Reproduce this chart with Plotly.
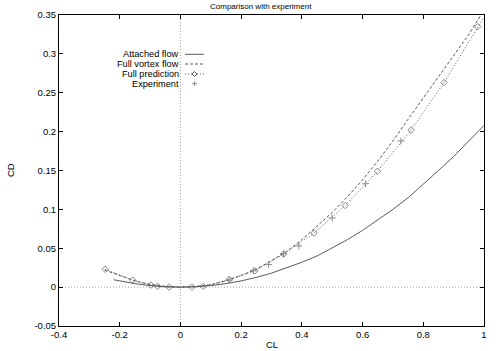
import plotly.graph_objects as go

# ---- data ----
attached_cl = [-0.22, -0.15, -0.1, -0.05, 0.0, 0.05, 0.1, 0.15, 0.2, 0.25, 0.3, 0.35, 0.4,
               0.45, 0.5, 0.55, 0.6, 0.65, 0.7, 0.75, 0.8, 0.85, 0.9, 0.95, 1.0]
attached_cd = [0.0095, 0.0045, 0.002, 0.0005, 0.0, 0.0005, 0.002, 0.0045, 0.008, 0.0125, 0.018,
               0.0245, 0.032, 0.040, 0.050, 0.061, 0.073, 0.086, 0.100, 0.115, 0.132, 0.150,
               0.168, 0.188, 0.208]

vortex_cl = [-0.25, -0.2, -0.15, -0.1, -0.05, 0.0, 0.05, 0.1, 0.15, 0.2, 0.25, 0.3, 0.35, 0.4,
             0.45, 0.5, 0.55, 0.6, 0.65, 0.7, 0.75, 0.8, 0.85, 0.9, 0.95, 0.99]
vortex_cd = [0.022, 0.015, 0.008, 0.0035, 0.001, 0.0, 0.001, 0.003, 0.008, 0.015, 0.023, 0.034,
             0.046, 0.061, 0.078, 0.096, 0.116, 0.138, 0.162, 0.188, 0.216, 0.243, 0.270,
             0.298, 0.325, 0.350]

pred_cl = [-0.248, -0.157, -0.097, -0.075, -0.037, 0.038, 0.075, 0.161, 0.245, 0.34, 0.44,
           0.543, 0.649, 0.76, 0.868, 0.979, 1.0]
pred_cd = [0.023, 0.009, 0.0026, 0.001, 0.0, 0.0, 0.001, 0.0099, 0.021, 0.0425, 0.0695,
           0.105, 0.149, 0.202, 0.263, 0.335, 0.347]
pred_marker = [1] * 16 + [0]   # last point is a line end without a marker

exp_cl = [0.16, 0.24, 0.29, 0.34, 0.39, 0.50, 0.61, 0.726]
exp_cd = [0.009, 0.021, 0.029, 0.043, 0.053, 0.089, 0.133, 0.188]

x_ticks = [-0.4, -0.2, 0, 0.2, 0.4, 0.6, 0.8, 1]
x_ticktext = ["-0.4", "-0.2", "0", "0.2", "0.4", "0.6", "0.8", "1"]
y_ticks = [-0.05, 0, 0.05, 0.1, 0.15, 0.2, 0.25, 0.3, 0.35]
y_ticktext = ["-0.05", "0", "0.05", "0.1", "0.15", "0.2", "0.25", "0.3", "0.35"]

legend_names = ["Attached flow", "Full vortex flow", "Full prediction", "Experiment"]

# ---- style ----
FONT = "Liberation Sans, Arial, sans-serif"
GRAY = "#5a5a5a"
LIGHT = "#8a8a8a"
W, H = 501, 351
ML, MR, MT, MB = 59, 17, 15, 25
PW, PH = W - ML - MR, H - MT - MB


def px(xp):
    return (xp - ML) / PW


def py(yp):
    return (H - MB - yp) / PH


fig = go.Figure()
fig.add_trace(go.Scatter(x=attached_cl, y=attached_cd, mode="lines",
                         line=dict(color=GRAY, width=1), name=legend_names[0]))
fig.add_trace(go.Scatter(x=vortex_cl, y=vortex_cd, mode="lines",
                         line=dict(color=GRAY, width=1, dash="3px,2px"), name=legend_names[1]))
fig.add_trace(go.Scatter(x=pred_cl, y=pred_cd, mode="lines+markers",
                         line=dict(color=GRAY, width=1, dash="1px,2px"),
                         marker=dict(symbol="diamond-open", size=[5 * m for m in pred_marker],
                                     color=GRAY, line=dict(width=1, color=GRAY)),
                         name=legend_names[2]))
fig.add_trace(go.Scatter(x=exp_cl, y=exp_cd, mode="markers",
                         marker=dict(symbol="cross-thin-open", size=5, color=LIGHT,
                                     line=dict(width=1, color=LIGHT)),
                         name=legend_names[3]))

shapes = [
    dict(type="line", xref="x", yref="paper", x0=0, x1=0, y0=0, y1=1, layer="below",
         line=dict(color="#a0a0a0", width=1, dash="1px,2px")),
    dict(type="line", xref="paper", yref="y", x0=0, x1=1, y0=0, y1=0, layer="below",
         line=dict(color="#a0a0a0", width=1, dash="1px,2px")),
]

annotations = [
    dict(text="Comparison with experiment", xref="paper", yref="paper", x=px(261), y=py(6),
         xanchor="center", yanchor="middle", showarrow=False,
         font=dict(family=FONT, size=8, color="black")),
    dict(text="CL", xref="paper", yref="paper", x=px(271.5), y=py(344.5),
         xanchor="center", yanchor="middle", showarrow=False,
         font=dict(family=FONT, size=9.5, color="black")),
    dict(text="CD", xref="paper", yref="paper", x=px(10), y=py(170), textangle=-90,
         xanchor="center", yanchor="middle", showarrow=False,
         font=dict(family=FONT, size=9.5, color="black")),
]

# manual gnuplot-style key: right-aligned text, sample to the right
rows = [54.3, 64, 74, 83.7]
for i, name in enumerate(legend_names):
    annotations.append(dict(text=name, xref="paper", yref="paper", x=px(181), y=py(rows[i]),
                            xanchor="right", yanchor="middle", showarrow=False,
                            font=dict(family=FONT, size=9.2, color="black")))
x0s, x1s = px(185), px(204)
shapes.append(dict(type="line", xref="paper", yref="paper", x0=x0s, x1=x1s,
                   y0=py(rows[0]), y1=py(rows[0]), line=dict(color=GRAY, width=1)))
shapes.append(dict(type="line", xref="paper", yref="paper", x0=x0s, x1=x1s,
                   y0=py(rows[1]), y1=py(rows[1]), line=dict(color=GRAY, width=1, dash="3px,2px")))
shapes.append(dict(type="line", xref="paper", yref="paper", x0=x0s, x1=x1s,
                   y0=py(rows[2]), y1=py(rows[2]), line=dict(color=GRAY, width=1, dash="1px,2px")))
# diamond sample
cx, cy = 194.5, rows[2]
shapes.append(dict(type="path", xref="paper", yref="paper",
                   path=f"M {px(cx-2.5)},{py(cy)} L {px(cx)},{py(cy-2.5)} L {px(cx+2.5)},{py(cy)} L {px(cx)},{py(cy+2.5)} Z",
                   line=dict(color=GRAY, width=1), fillcolor="white"))
# plus sample
cx, cy = 194.5, rows[3]
shapes.append(dict(type="line", xref="paper", yref="paper", x0=px(cx-2.5), x1=px(cx+2.5),
                   y0=py(cy), y1=py(cy), line=dict(color=LIGHT, width=1)))
shapes.append(dict(type="line", xref="paper", yref="paper", x0=px(cx), x1=px(cx),
                   y0=py(cy-2.5), y1=py(cy+2.5), line=dict(color=LIGHT, width=1)))

axis_common = dict(showgrid=False, zeroline=False, showline=True, linecolor="black",
                   linewidth=1, mirror="ticks", ticks="inside", ticklen=4, tickcolor="black",
                   automargin=False,
                   tickfont=dict(family=FONT, size=9.5, color="black"))

fig.update_layout(
    width=W, height=H, autosize=False,
    margin=dict(l=ML, r=MR, t=MT, b=MB, pad=0),
    paper_bgcolor="white", plot_bgcolor="white",
    showlegend=False,
    xaxis=dict(range=[-0.4, 1], tickvals=x_ticks, ticktext=x_ticktext, **axis_common),
    yaxis=dict(range=[-0.05, 0.35], tickvals=y_ticks, ticktext=y_ticktext, **axis_common),
    shapes=shapes, annotations=annotations,
)

fig.write_html("out.html")
